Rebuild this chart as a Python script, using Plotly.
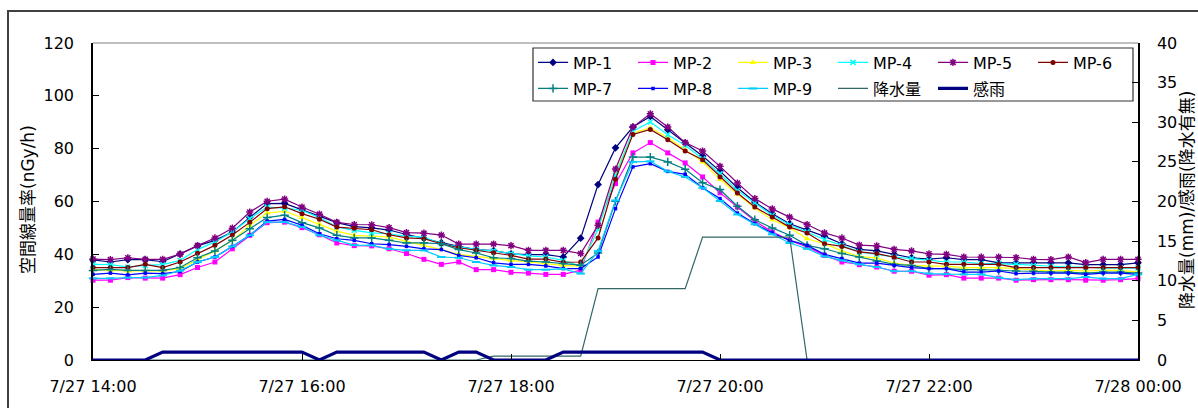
import pandas as pd
import plotly.graph_objects as go

# ---------------- data ----------------
times = pd.date_range("2024-07-27 14:00", "2024-07-28 00:00", freq="10min")

tick_vals = ["2024-07-27 14:00", "2024-07-27 16:00", "2024-07-27 18:00",
             "2024-07-27 20:00", "2024-07-27 22:00", "2024-07-28 00:00"]
tick_labels = ["7/27 14:00", "7/27 16:00", "7/27 18:00",
               "7/27 20:00", "7/27 22:00", "7/28 00:00"]

mp1 = [37.9, 37.1, 38.0, 38.0, 37.2, 40.1, 43.2, 45.3, 48.4, 54.0,
       59.2, 59.3, 56.9, 54.3, 52.0, 50.5, 50.0, 49.2, 47.5, 46.1,
       44.4, 43.0, 41.8, 41.4, 40.2, 39.9, 39.9, 39.0, 46.1, 66.4,
       80.3, 88.2, 92.2, 87.2, 82.1, 77.2, 71.5, 65.2, 59.8, 55.4,
       51.6, 49.3, 46.8, 44.0, 41.9, 41.3, 40.0, 38.7, 38.2, 38.7,
       38.0, 38.0, 36.8, 36.8, 36.8, 36.8, 36.8, 36.1, 36.1, 36.1,
       36.8]
mp2 = [30.2, 30.2, 31.2, 31.0, 31.0, 32.3, 35.0, 37.1, 42.1, 47.2,
       52.0, 52.2, 50.1, 47.4, 44.3, 43.3, 43.2, 42.1, 40.3, 38.1,
       36.2, 37.1, 34.2, 34.2, 33.2, 32.9, 32.4, 32.4, 34.0, 52.2,
       66.8, 78.4, 82.3, 78.4, 74.6, 69.3, 63.3, 57.9, 52.6, 48.5,
       45.3, 42.8, 39.6, 37.1, 36.1, 35.2, 33.6, 33.6, 32.1, 32.3,
       31.0, 31.0, 31.0, 30.2, 30.4, 30.4, 30.4, 30.2, 30.2, 30.4,
       30.8]
mp3 = [34.2, 33.9, 33.7, 33.7, 33.7, 34.6, 38.0, 41.3, 45.3, 51.0,
       55.6, 56.3, 53.9, 51.4, 48.8, 47.2, 46.8, 46.6, 44.9, 43.4,
       41.8, 40.0, 39.2, 38.4, 37.7, 37.1, 36.5, 35.8, 35.5, 49.7,
       70.8, 85.9, 87.9, 84.2, 79.6, 75.0, 68.3, 62.7, 57.5, 53.1,
       50.1, 45.9, 44.0, 41.3, 39.2, 38.6, 36.7, 35.8, 35.5, 35.5,
       35.0, 35.0, 35.0, 34.6, 34.2, 33.7, 33.9, 33.7, 33.9, 33.9,
       33.3]
mp4 = [36.2, 36.1, 35.2, 35.8, 36.1, 37.7, 41.8, 44.7, 48.5, 53.5,
       57.9, 57.5, 56.7, 53.9, 50.4, 49.1, 48.1, 47.8, 46.8, 46.5,
       44.0, 42.8, 41.8, 41.3, 40.3, 39.4, 39.0, 37.7, 35.5, 49.5,
       69.9, 86.6, 90.1, 85.3, 81.3, 76.2, 70.5, 64.2, 59.4, 54.8,
       51.2, 48.5, 45.6, 43.4, 40.9, 40.0, 39.0, 38.4, 37.7, 37.1,
       37.1, 36.5, 36.5, 36.2, 35.8, 35.5, 35.2, 35.2, 34.8, 34.8,
       34.8]
mp5 = [38.2, 38.0, 38.7, 38.1, 38.1, 40.1, 43.3, 46.2, 49.9, 56.0,
       60.1, 60.9, 57.9, 55.2, 52.1, 51.3, 51.2, 50.1, 48.2, 48.0,
       47.3, 43.9, 43.9, 43.9, 43.3, 41.5, 41.5, 41.5, 40.3, 51.0,
       72.3, 88.2, 93.2, 88.2, 82.3, 79.1, 73.3, 67.0, 61.1, 57.2,
       54.1, 51.3, 48.1, 46.2, 43.5, 43.2, 41.9, 41.3, 40.2, 40.0,
       39.0, 39.0, 39.0, 38.8, 38.1, 38.0, 39.0, 36.9, 38.1, 38.1,
       38.1]
mp6 = [35.0, 35.0, 35.0, 36.2, 35.0, 37.1, 40.4, 43.4, 47.3, 52.1,
       57.3, 58.0, 55.4, 53.3, 50.3, 49.9, 49.3, 47.4, 46.2, 45.9,
       44.0, 42.5, 41.5, 40.6, 39.6, 38.2, 38.2, 37.0, 37.1, 46.2,
       68.4, 85.4, 87.3, 83.4, 79.1, 75.8, 69.3, 63.2, 57.9, 54.1,
       50.3, 48.1, 44.0, 43.0, 40.9, 40.3, 38.9, 37.1, 37.1, 36.2,
       36.2, 36.2, 36.2, 35.0, 35.0, 35.0, 35.0, 35.0, 35.0, 35.0,
       35.0]
mp7 = [33.9, 34.3, 33.9, 33.9, 33.9, 35.0, 38.7, 41.3, 45.3, 49.7,
       53.9, 54.8, 52.0, 50.0, 47.2, 46.2, 46.2, 45.3, 44.3, 44.3,
       44.0, 41.8, 40.5, 38.7, 38.4, 37.4, 37.1, 36.5, 35.9, 40.5,
       60.1, 76.8, 76.8, 75.0, 72.2, 67.1, 64.5, 58.2, 53.1, 50.0,
       47.2, 43.4, 42.1, 40.3, 39.0, 37.5, 36.2, 35.8, 34.6, 34.6,
       34.2, 34.2, 33.9, 33.7, 33.6, 33.3, 33.3, 32.9, 33.3, 33.3,
       32.9]
mp8 = [32.4, 32.9, 32.2, 32.9, 32.7, 33.5, 37.1, 39.0, 43.0, 47.2,
       52.6, 53.2, 51.0, 47.8, 45.9, 45.3, 44.0, 43.7, 43.0, 42.1,
       41.8, 39.6, 38.7, 36.8, 36.2, 36.2, 35.6, 34.6, 34.6, 39.0,
       57.3, 73.1, 74.3, 71.4, 70.3, 65.2, 61.1, 55.6, 51.6, 48.1,
       45.3, 43.4, 40.0, 38.4, 36.7, 36.7, 35.8, 35.0, 34.6, 34.6,
       33.3, 33.3, 33.7, 32.7, 32.9, 32.9, 32.9, 32.4, 32.9, 32.9,
       32.4]
mp9 = [30.9, 30.9, 31.2, 31.2, 32.0, 33.8, 37.1, 39.0, 43.0, 47.2,
       52.2, 52.2, 50.4, 47.2, 45.3, 43.5, 43.4, 42.1, 41.5, 41.5,
       39.0, 38.7, 37.1, 35.8, 35.2, 34.2, 34.2, 34.5, 32.7, 41.3,
       60.4, 75.0, 75.2, 71.4, 69.3, 65.2, 60.2, 55.1, 51.4, 47.6,
       44.3, 42.1, 39.2, 37.7, 36.2, 35.2, 33.6, 33.6, 32.7, 32.5,
       32.4, 32.4, 31.2, 30.4, 30.8, 30.8, 30.8, 31.4, 30.8, 30.8,
       32.4]
precip = [0, 0, 0, 0, 0, 0, 0, 0, 0, 0,
          0, 0, 0, 0, 0, 0, 0, 0, 0, 0,
          0, 0, 0, 0.5, 0.5, 0.5, 0.5, 0.5, 0.5, 9.0,
          9.0, 9.0, 9.0, 9.0, 9.0, 15.5, 15.5, 15.5, 15.5, 15.5,
          15.5, 0, 0, 0, 0, 0, 0, 0, 0, 0,
          0, 0, 0, 0, 0, 0, 0, 0, 0, 0,
          0]
rain = [0, 0, 0, 0, 1, 1, 1, 1, 1, 1,
        1, 1, 1, 0, 1, 1, 1, 1, 1, 1,
        0, 1, 1, 0, 0, 0, 0, 1, 1, 1,
        1, 1, 1, 1, 1, 1, 0, 0, 0, 0,
        0, 0, 0, 0, 0, 0, 0, 0, 0, 0,
        0, 0, 0, 0, 0, 0, 0, 0, 0, 0,
        0]

names = ["MP-1", "MP-2", "MP-3", "MP-4", "MP-5", "MP-6", "MP-7", "MP-8", "MP-9"]
series = [mp1, mp2, mp3, mp4, mp5, mp6, mp7, mp8, mp9]

# ---------------- styles ----------------
styles = [
    dict(color="#000080", symbol="diamond", size=6, lw=0),
    dict(color="#FF00FF", symbol="square", size=5, lw=0),
    dict(color="#FFFF00", symbol="triangle-up", size=6, lw=0),
    dict(color="#00FFFF", symbol="x-thin-open", size=5, lw=1.5),
    dict(color="#800080", symbol="asterisk-open", size=6, lw=1.5),
    dict(color="#800000", symbol="circle", size=5, lw=0),
    dict(color="#008080", symbol="cross-thin-open", size=6, lw=1.5),
    dict(color="#0000FF", symbol="square", size=3.5, lw=0),
    dict(color="#00CCFF", symbol="line-ew-open", size=6, lw=2),
]

FONT = "DejaVu Sans, Noto Sans CJK JP, sans-serif"

fig = go.Figure()
for i, (nm, vals, st) in enumerate(zip(names, series, styles)):
    marker = dict(symbol=st["symbol"], size=st["size"], color=st["color"])
    if st["lw"]:
        marker["line"] = dict(color=st["color"], width=st["lw"])
    else:
        marker["line"] = dict(width=0)
    fig.add_trace(go.Scatter(
        x=times, y=vals, name=nm, mode="lines+markers",
        line=dict(color=st["color"], width=1.2), marker=marker,
        cliponaxis=False, legend="legend" if i < 6 else "legend2",
    ))

fig.add_trace(go.Scatter(
    x=times, y=precip, name="降水量", mode="lines", yaxis="y2",
    line=dict(color="#336666", width=1.2), cliponaxis=False, legend="legend2",
))
fig.add_trace(go.Scatter(
    x=times, y=rain, name="感雨", mode="lines", yaxis="y2",
    line=dict(color="#000080", width=3.2), cliponaxis=False, legend="legend2",
))

L, R, T, B = 93, 1198 - 1138, 43, 408 - 360
PW, PH = 1138 - 93, 360 - 43

def px_x(p):
    return (p - L) / PW

def px_y(p):
    return (360 - p) / PH

legend_common = dict(
    orientation="h", xanchor="left", yanchor="middle",
    entrywidth=55, entrywidthmode="pixels",
    bgcolor="rgba(0,0,0,0)", borderwidth=0,
    font=dict(family=FONT, size=16, color="black"),
    traceorder="normal", itemclick=False,
)

fig.update_layout(
    width=1198, height=408,
    margin=dict(l=L, r=R, t=T, b=B, pad=0),
    paper_bgcolor="white", plot_bgcolor="white",
    font=dict(family=FONT, size=16, color="black"),
    showlegend=True,
    legend=dict(legend_common, x=px_x(533), y=px_y(62.5)),
    legend2=dict(legend_common, x=px_x(533), y=px_y(88.5)),
    xaxis=dict(
        type="date", range=[times[0], times[-1]],
        tickvals=tick_vals, ticktext=tick_labels,
        ticks="inside", ticklen=6, tickcolor="black", tickwidth=1,
        showline=True, linecolor="black", linewidth=1,
        showgrid=False, zeroline=False, ticklabelstandoff=12,
    ),
    yaxis=dict(
        range=[0, 120], dtick=20, ticks="inside", ticklen=6,
        tickcolor="black", showline=True, linecolor="black", linewidth=1.5,
        showgrid=False, zeroline=False, ticklabelstandoff=14,
    ),
    yaxis2=dict(
        range=[0, 40], dtick=5, overlaying="y", side="right",
        ticks="inside", ticklen=6, tickcolor="black",
        showline=True, linecolor="black", linewidth=1.5,
        showgrid=False, zeroline=False, ticklabelstandoff=14,
    ),
    shapes=[
        # plot-area top border
        dict(type="line", xref="paper", yref="paper", x0=0, x1=1, y0=1, y1=1,
             line=dict(color="#808080", width=1)),
        # legend frame
        dict(type="rect", xref="paper", yref="paper",
             x0=px_x(533), x1=px_x(1133), y0=px_y(101), y1=px_y(48),
             line=dict(color="#333333", width=1.2), fillcolor="white", layer="below"),
        # chart-area outer frame
        dict(type="rect", xref="paper", yref="paper",
             x0=px_x(8), x1=px_x(1230), y0=px_y(440), y1=px_y(11),
             line=dict(color="#404040", width=2), fillcolor="rgba(0,0,0,0)"),
    ],
    annotations=[
        dict(text="空間線量率(nGy/h)", xref="paper", yref="paper",
             x=px_x(28), y=px_y(200), textangle=-90, showarrow=False,
             xanchor="center", yanchor="middle",
             font=dict(family=FONT, size=17, color="black")),
        dict(text="降水量(mm)/感雨(降水有無)", xref="paper", yref="paper",
             x=px_x(1187), y=px_y(200), textangle=-90, showarrow=False,
             xanchor="center", yanchor="middle",
             font=dict(family=FONT, size=17, color="black")),
    ],
)

fig.write_html("out.html")
